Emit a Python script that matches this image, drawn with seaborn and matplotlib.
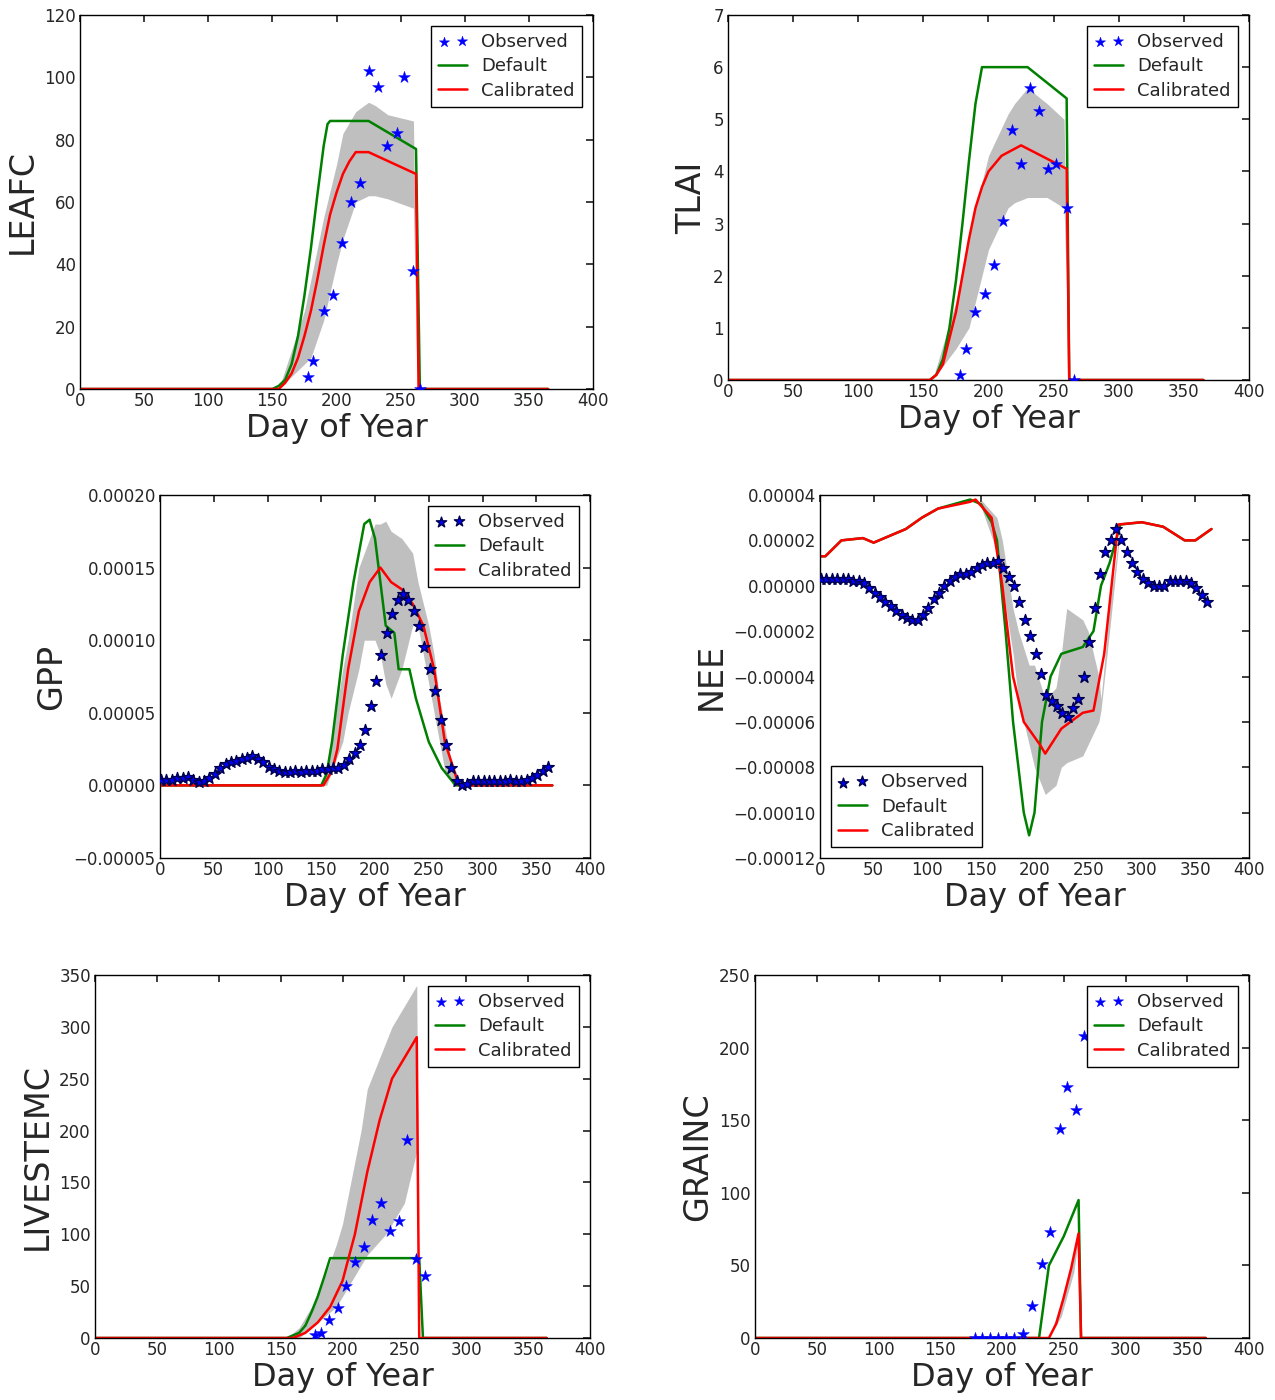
import numpy as np
import pandas as pd
import seaborn as sns
import matplotlib
matplotlib.use("Agg")
import matplotlib.pyplot as plt
from matplotlib.ticker import FuncFormatter

# ---- LEAFC
leaf_def_d = [0, 150, 155, 160, 165, 170, 175, 180, 185, 190, 193, 195, 225, 262, 265, 365]
leaf_def_v = [0, 0, 1, 3, 8, 17, 30, 45, 62, 78, 85, 86, 86, 77, 0, 0]
leaf_cal_d = [0, 155, 160, 165, 170, 175, 180, 185, 190, 195, 200, 205, 210, 215, 225, 262, 264, 365]
leaf_cal_v = [0, 0, 2, 5, 10, 17, 25, 35, 46, 56, 63, 69, 73, 76, 76, 69, 0, 0]
leaf_band_d = [155, 175, 180, 190, 200, 205, 215, 225, 230, 240, 260, 263]
leaf_band_lo = [0, 8, 10, 22, 40, 48, 60, 62, 62, 61, 58, 0]
leaf_band_hi = [0, 25, 35, 55, 72, 82, 89, 92, 91, 88, 86, 0]
leaf_obs_d = [178, 182, 190, 197, 204, 211, 218, 225, 232, 239, 247, 253, 260, 265]
leaf_obs_v = [4, 9, 25, 30, 47, 60, 66, 102, 97, 78, 82, 100, 38, 0]

# ---- TLAI
lai_def_d = [0, 155, 160, 165, 170, 175, 180, 185, 190, 195, 230, 260, 262, 365]
lai_def_v = [0, 0, 0.1, 0.4, 1.0, 1.9, 3.0, 4.2, 5.3, 6.0, 6.0, 5.4, 0, 0]
lai_cal_d = [0, 155, 160, 165, 170, 175, 180, 185, 190, 195, 200, 210, 225, 260, 262, 365]
lai_cal_v = [0, 0, 0.1, 0.3, 0.8, 1.3, 2.0, 2.7, 3.3, 3.7, 4.0, 4.3, 4.5, 4.05, 0, 0]
lai_band_d = [157, 175, 185, 195, 200, 215, 220, 230, 245, 258, 262]
lai_band_lo = [0, 0.6, 1.0, 2.0, 2.5, 3.3, 3.4, 3.5, 3.5, 3.3, 0]
lai_band_hi = [0, 1.5, 2.8, 3.8, 4.3, 5.1, 5.3, 5.6, 5.3, 5.0, 0]
lai_obs_d = [178, 183, 190, 197, 204, 211, 218, 225, 232, 239, 246, 252, 260, 266]
lai_obs_v = [0.1, 0.6, 1.3, 1.65, 2.2, 3.05, 4.8, 4.15, 5.6, 5.15, 4.05, 4.15, 3.3, 0]

# ---- GPP (1e-5), observed every 5 days from day 1
gpp_obs_d = list(range(1, 366, 5))
gpp_obs_v = [0.4, 0.4, 0.4, 0.5, 0.5, 0.6, 0.4, 0.2, 0.3, 0.5, 0.8, 1.2, 1.5, 1.6, 1.7, 1.8,
             1.9, 2.0, 1.8, 1.6, 1.3, 1.1, 1.0, 0.9, 0.9, 1.0, 0.9, 1.0, 1.0, 1.0, 1.1, 1.1,
             1.2, 1.2, 1.4, 1.8, 2.2, 2.8, 3.8, 5.5, 7.2, 9.0, 10.5, 11.8, 12.8, 13.2, 12.8,
             12.0, 11.0, 9.5, 8.0, 6.5, 4.5, 2.8, 1.2, 0.3, 0.0, 0.1, 0.3, 0.3, 0.3, 0.3, 0.3,
             0.3, 0.3, 0.4, 0.3, 0.3, 0.4, 0.5, 0.7, 1.0, 1.3]
gpp_def_d = [0, 150, 155, 160, 170, 180, 190, 195, 200, 205, 210, 218, 222, 232, 238, 250, 262, 275, 365]
gpp_def_v = [0, 0, 0.8, 3, 9, 14, 18, 18.3, 17, 14, 11, 10.5, 8, 8, 6, 3, 1.2, 0, 0]
gpp_cal_d = [0, 152, 160, 165, 175, 185, 195, 205, 215, 225, 235, 245, 255, 265, 278, 365]
gpp_cal_v = [0, 0, 1, 2.5, 8, 12, 14, 15, 14, 13.5, 12.5, 11, 8, 3, 0, 0]
gpp_band_d = [150, 155, 170, 175, 185, 190, 200, 205, 210, 215, 225, 235, 240, 245, 250, 255, 260, 265, 270, 280]
gpp_band_lo = [0, 0, 3, 5, 8, 10, 10, 9, 7, 6, 8, 11, 11, 9, 7, 5, 3, 1, 0.5, 0]
gpp_band_hi = [0, 1, 8, 10, 15, 16, 18, 18, 18.2, 17.5, 17, 16, 14, 12.5, 11, 9, 6, 4, 2, 0]

# ---- NEE (1e-5)
nee_obs_d = list(range(1, 366, 5))
nee_obs_v = [0.3, 0.3, 0.3, 0.3, 0.3, 0.3, 0.2, 0.2, 0.1, -0.1, -0.3, -0.5, -0.7, -0.9, -1.1,
             -1.3, -1.4, -1.5, -1.5, -1.3, -1.0, -0.6, -0.3, 0.0, 0.2, 0.4, 0.5, 0.5, 0.6, 0.8,
             0.9, 1.0, 1.0, 1.1, 0.8, 0.4, 0.0, -0.7, -1.5, -2.2, -3.0, -3.9, -4.8, -5.1, -5.3,
             -5.6, -5.8, -5.4, -5.0, -4.0, -2.5, -1.0, 0.5, 1.5, 2.0, 2.5, 2.0, 1.5, 1.0, 0.6,
             0.3, 0.1, 0.0, 0.0, 0.0, 0.2, 0.2, 0.2, 0.2, 0.1, -0.1, -0.4, -0.7]
nee_def_d = [0, 5, 20, 40, 50, 80, 95, 110, 140, 150, 160, 165, 173, 180, 190, 195, 200, 207,
             215, 225, 245, 255, 262, 270, 280, 300, 320, 340, 350, 365]
nee_def_v = [1.3, 1.3, 2.0, 2.1, 1.9, 2.5, 3.0, 3.4, 3.8, 3.6, 2.8, 2.0, -2.0, -6.0, -10.0,
             -11.0, -10.0, -6.0, -4.0, -3.0, -2.7, -2.0, 0.0, 1.0, 2.7, 2.8, 2.6, 2.0, 2.0, 2.5]
nee_cal_d = [0, 5, 20, 40, 50, 80, 95, 110, 140, 145, 160, 170, 180, 190, 205, 210, 225, 245,
             255, 265, 278, 300, 320, 340, 350, 365]
nee_cal_v = [1.3, 1.3, 2.0, 2.1, 1.9, 2.5, 3.0, 3.4, 3.7, 3.8, 3.0, 0.0, -4.0, -6.0, -7.0,
             -7.4, -6.3, -5.6, -5.5, -3.0, 2.7, 2.8, 2.6, 2.0, 2.0, 2.5]
nee_band_d = [150, 165, 170, 180, 185, 195, 200, 210, 220, 225, 230, 245, 250, 260, 262, 270, 280]
nee_band_lo = [3.5, 1.5, 0.0, -3.0, -5.0, -7.0, -8.0, -9.2, -8.8, -8.0, -7.8, -7.5, -7.0, -6.0, -5.5, -2.0, 2.5]
nee_band_hi = [3.8, 3.0, 2.0, -1.0, -2.0, -3.5, -3.5, -5.0, -4.5, -3.0, -1.0, -1.5, -2.0, -4.0, -5.0, -1.0, 2.7]

# ---- LIVESTEMC
stem_def_d = [0, 155, 165, 170, 175, 180, 185, 190, 262, 265, 365]
stem_def_v = [0, 0, 5, 12, 25, 40, 58, 77, 77, 0, 0]
stem_cal_d = [0, 160, 170, 180, 190, 200, 210, 220, 230, 240, 250, 260, 262, 365]
stem_cal_v = [0, 0, 5, 15, 30, 55, 100, 160, 210, 250, 270, 290, 0, 0]
stem_band_d = [155, 165, 180, 195, 200, 215, 220, 235, 240, 250, 260, 262]
stem_band_lo = [0, 0, 15, 30, 40, 70, 80, 100, 110, 130, 180, 0]
stem_band_hi = [0, 10, 40, 90, 110, 200, 240, 285, 300, 320, 340, 0]
stem_obs_d = [178, 183, 189, 196, 203, 210, 217, 224, 231, 238, 246, 252, 259, 267]
stem_obs_v = [3, 5, 17, 29, 50, 73, 88, 114, 130, 103, 113, 191, 76, 60]

# ---- GRAINC
grain_def_d = [0, 230, 234, 238, 250, 262, 264, 365]
grain_def_v = [0, 0, 25, 50, 70, 95, 0, 0]
grain_cal_d = [0, 238, 244, 250, 256, 262, 264, 365]
grain_cal_v = [0, 0, 10, 28, 48, 72, 0, 0]
grain_band_d = [238, 248, 258, 262, 264]
grain_band_lo = [0, 15, 45, 68, 0]
grain_band_hi = [0, 25, 55, 76, 0]
grain_obs_d = [178, 184, 190, 197, 203, 210, 217, 224, 232, 239, 247, 253, 260, 266]
grain_obs_v = [0, 0, 0, 0, 0, 0, 3, 22, 51, 73, 144, 173, 157, 208]

sns.set_theme(style="white")
plt.rcParams.update({
    "font.family": ["DejaVu Sans"],
    "axes.edgecolor": "black", "axes.linewidth": 1.0,
    "xtick.direction": "in", "ytick.direction": "in",
    "xtick.top": True, "ytick.right": True,
    "xtick.major.size": 5, "ytick.major.size": 5,
    "xtick.labelsize": 12, "ytick.labelsize": 12,
    "xtick.major.pad": 2, "ytick.major.pad": 3,
    "legend.scatterpoints": 2, "legend.fontsize": 13,
    "legend.fancybox": False, "legend.edgecolor": "black", "legend.framealpha": 1,
})

fig = plt.figure(figsize=(12.75, 14), dpi=100)
W, H = 1275, 1400


def add_ax(x0, y0, x1, y1):
    return fig.add_axes([x0 / W, 1 - y1 / H, (x1 - x0) / W, (y1 - y0) / H])


def umin(fmt):
    def f(v, p):
        if abs(v) < 1e-12:
            v = 0.0
        return (fmt % v).replace("-", "\u2212")
    return FuncFormatter(f)


def panel(ax, name, defd, defv, cald, calv, bd, blo, bhi, od, ov, ylim, yticks,
          fmt=None, loc="upper right", ms=80, dense=False):
    ax.fill_between(bd, blo, bhi, color="0.55", alpha=0.55, linewidth=0)
    sns.lineplot(x=defd, y=defv, ax=ax, color="green", lw=1.8, estimator=None, sort=False, label="Default")
    sns.lineplot(x=cald, y=calv, ax=ax, color="red", lw=1.8, estimator=None, sort=False, label="Calibrated")
    sns.scatterplot(x=od, y=ov, ax=ax, marker="*", s=ms, color="blue",
                    edgecolor="#000050" if dense else "blue", linewidth=1.0 if dense else 0.3,
                    label="Observed", zorder=5)
    h, l = ax.get_legend_handles_labels()
    order = [l.index("Observed"), l.index("Default"), l.index("Calibrated")]
    leg = ax.legend([h[i] for i in order], [l[i] for i in order], loc=loc,
                    handlelength=1.6, borderpad=0.4, labelspacing=0.35, borderaxespad=0.6)
    leg.legend_handles[0].set_sizes([60])
    ax.set_xlim(0, 400)
    ax.set_xticks(range(0, 401, 50))
    ax.set_ylim(*ylim)
    ax.set_yticks(yticks)
    if fmt:
        ax.yaxis.set_major_formatter(umin(fmt))
    ax.set_xlabel("Day of Year", fontsize=23, labelpad=2)
    ax.set_ylabel(name, fontsize=24)


s = 1e-5
panel(add_ax(80, 15, 593, 389), "LEAFC", leaf_def_d, leaf_def_v, leaf_cal_d, leaf_cal_v,
      leaf_band_d, leaf_band_lo, leaf_band_hi, leaf_obs_d, leaf_obs_v, (0, 120), range(0, 121, 20))
panel(add_ax(728, 15, 1249, 380), "TLAI", lai_def_d, lai_def_v, lai_cal_d, lai_cal_v,
      lai_band_d, lai_band_lo, lai_band_hi, lai_obs_d, lai_obs_v, (0, 7), range(0, 8))
panel(add_ax(160, 495, 590, 858), "GPP",
      gpp_def_d, [v * s for v in gpp_def_v], gpp_cal_d, [v * s for v in gpp_cal_v],
      gpp_band_d, [v * s for v in gpp_band_lo], [v * s for v in gpp_band_hi],
      gpp_obs_d, [v * s for v in gpp_obs_v], (-5e-5, 2e-4), np.arange(-5e-5, 2.01e-4, 5e-5),
      fmt="%.5f", dense=True, ms=75)
panel(add_ax(820, 495, 1249, 858), "NEE",
      nee_def_d, [v * s for v in nee_def_v], nee_cal_d, [v * s for v in nee_cal_v],
      nee_band_d, [v * s for v in nee_band_lo], [v * s for v in nee_band_hi],
      nee_obs_d, [v * s for v in nee_obs_v], (-1.2e-4, 4e-5), np.arange(-1.2e-4, 4.01e-5, 2e-5),
      fmt="%.5f", loc="lower left", dense=True, ms=75)
panel(add_ax(95, 975, 590, 1338), "LIVESTEMC", stem_def_d, stem_def_v, stem_cal_d, stem_cal_v,
      stem_band_d, stem_band_lo, stem_band_hi, stem_obs_d, stem_obs_v, (0, 350), range(0, 351, 50))
panel(add_ax(755, 975, 1249, 1338), "GRAINC", grain_def_d, grain_def_v, grain_cal_d, grain_cal_v,
      grain_band_d, grain_band_lo, grain_band_hi, grain_obs_d, grain_obs_v, (0, 250), range(0, 251, 50))

fig.savefig("out.png", dpi=100)
